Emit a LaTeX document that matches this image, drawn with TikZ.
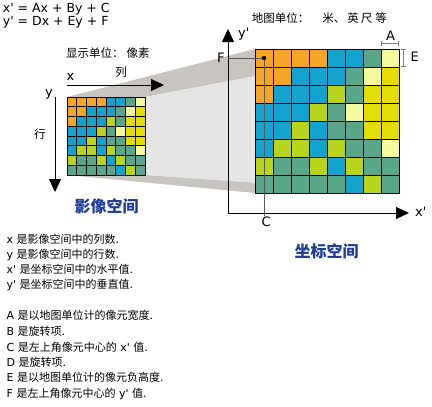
\documentclass[tikz,border=0pt]{standalone}
\usepackage{fontspec}
\setmainfont{DejaVu Sans}
\newfontfamily\cjk{Noto Sans CJK SC}
\usetikzlibrary{positioning, arrows.meta}

\definecolor{pixo}{RGB}{247,165,39}
\definecolor{pixb}{RGB}{20,163,207}
\definecolor{pixg}{RGB}{90,166,138}
\definecolor{pixw}{RGB}{245,250,156}
\definecolor{pixy}{RGB}{229,221,0}
\definecolor{pixl}{RGB}{184,212,29}
\definecolor{bandgray}{RGB}{200,197,192}
\definecolor{facegray}{RGB}{229,229,229}
\definecolor{titleblue}{RGB}{30,60,150}

\newcommand{\prm}{\textquotesingle}
% colour of every pixel, row by row
\newcommand{\pixrows}{{o,o,o,o,b,b,g,w},{o,o,b,b,b,g,w,y},{o,b,b,b,l,g,y,y},{b,b,b,l,g,w,y,y},{b,b,l,b,g,g,y,y},{b,l,l,b,l,g,g,w},{l,g,g,l,b,l,g,g},{g,g,g,g,g,b,l,g}}
% #1,#2 top left corner, #3 cell size
\newcommand{\pixgrid}[3]{%
  \foreach \rowlist [count=\r from 0] in \pixrows {
    \foreach \c [count=\k from 0] in \rowlist
      \filldraw[cell, fill=pix\c] ({#1+\k*#3},{#2+\r*#3}) rectangle ++(#3,#3);
  }}

\tikzset{
  cell/.style={draw=black, line width=0.9pt},
  band/.style={fill=bandgray},
  face/.style={fill=facegray},
  bigaxis/.style={line width=1pt, -{Triangle[length=13pt,width=12pt]}},
  helpline/.style={draw=black!65, line width=0.7pt},
  dimline/.style={draw=black!50, line width=0.6pt, {Bar[width=5pt]}-{Bar[width=5pt]}},
  axlabel/.style={anchor=base west, inner sep=0pt, font=\fontsize{13}{15}\selectfont},
  cjklabel/.style={inner sep=0pt, font=\cjk\fontsize{11.5}{14}\selectfont},
  spacetitle/.style={inner sep=0pt, text=titleblue, font=\cjk\bfseries\fontsize{16}{18}\selectfont},
  formula/.style={anchor=base west, inner sep=0pt, font=\fontsize{12.5}{14}\selectfont},
  note/.style={anchor=base west, inner sep=0pt, font=\fontsize{11}{13}\selectfont},
}

\begin{document}
\begin{tikzpicture}[x=1pt, y=-1pt]
  \useasboundingbox (0,0) rectangle (432,407);

  % corners of the image raster and the map raster
  \coordinate (sTL) at (67,97);
  \coordinate (sTR) at (145,97);
  \coordinate (sBL) at (67,175);
  \coordinate (sBR) at (145,175);
  \coordinate (mTL) at (255,49);
  \coordinate (mTR) at (399,49);
  \coordinate (mBL) at (255,193);
  \coordinate (mBR) at (399,193);

  % projection from image space to map space
  \fill[band] (sTL) -- (sTR) -- (mTR) -- (mTL) -- cycle;
  \fill[face] (sTR) -- (sBR) -- (mBR) -- (mTR) -- cycle;
  \fill[band] (sBL) -- (sBR) -- (mBR) -- (mBL) -- cycle;

  \pixgrid{255}{49}{18}
  \pixgrid{67}{97}{9.75}

  % image space axes
  \coordinate (xs0) at (67,85);
  \coordinate (xs1) at (164,85);
  \coordinate (ys0) at (55,97);
  \coordinate (ys1) at (55,192);
  \draw[bigaxis] (xs0) -- (xs1);
  \draw[bigaxis] (ys0) -- (ys1);
  \node[axlabel] (xlab) at (66.5,80.7) {x};
  \node[axlabel] (ylab) at (45,96) {y};
  \node[cjklabel] (collab) at (121,72.5) {列};
  \node[cjklabel] (rowlab) at (40,134) {行};
  \node[cjklabel, anchor=west] (pixunit) at (66,53.3) {显示单位：\hspace{3pt}像素};
  \node[spacetitle] (imgspace) at (106.7,206) {影像空间};

  % map space axes
  \coordinate (O) at (228,213);
  \coordinate (ytip) at (228,29);
  \coordinate (xtip) at (409,213);
  \draw[bigaxis] (O) -- (ytip);
  \draw[bigaxis] (O) -- (xtip);
  \node[axlabel] (yplab) at (238,37.5) {y\prm};
  \node[axlabel] (xplab) at (415,216.5) {x\prm};
  \node[cjklabel, anchor=west] (mapunit) at (251.7,18.3) {地图单位：\hspace{13pt}米、\hspace{2pt}英\hspace{2pt}尺\hspace{3pt}等};
  \node[spacetitle] (mapspace) at (326.7,251.7) {坐标空间};

  % centre of the upper left pixel
  \coordinate (Fy) at (228,58);
  \coordinate (pix) at (264,58);
  \coordinate (Cx) at (264,216);
  \draw[helpline] (Fy) -- (pix) -- (Cx);
  \fill (pix) circle (2.2);
  \node[axlabel] (Flab) at (217,62.3) {F};
  \node[axlabel] (Clab) at (261.5,226) {C};

  % pixel size
  \coordinate (A0) at (381,43.3);
  \coordinate (A1) at (399,43.3);
  \coordinate (E0) at (403,49);
  \coordinate (E1) at (403,67);
  \draw[dimline] (A0) -- (A1);
  \draw[dimline] (E0) -- (E1);
  \node[axlabel] (Alab) at (386,40) {A};
  \node[axlabel] (Elab) at (410.5,61.7) {E};

  % transformation
  \node[formula] (eqx) at (2.7,12.3) {x\prm{} = Ax + By + C};
  \node[formula] (eqy) at (2.7,25.7) {y\prm{} = Dx + Ey + F};

  % legend
  \foreach \yy/\txt [count=\n] in {
      239/{x {\cjk 是影像空间中的列数}.},
      254/{y {\cjk 是影像空间中的行数}.},
      269.5/{x\prm{} {\cjk 是坐标空间中的水平值}.},
      284.5/{y\prm{} {\cjk 是坐标空间中的垂直值}.},
      315.5/{A {\cjk 是以地图单位计的像元宽度}.},
      331/{B {\cjk 是旋转项}.},
      347/{C {\cjk 是左上角像元中心的} x\prm{} {\cjk 值}.},
      362/{D {\cjk 是旋转项}.},
      377.5/{E {\cjk 是以地图单位计的像元负高度}.},
      393.5/{F {\cjk 是左上角像元中心的} y\prm{} {\cjk 值}.}}
    \node[note] (note\n) at (6.5,{\yy+4.2}) {\txt};
\end{tikzpicture}
\end{document}
